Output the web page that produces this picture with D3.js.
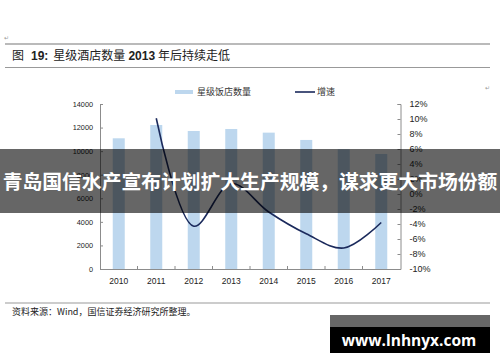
<!DOCTYPE html>
<html lang="zh">
<head>
<meta charset="utf-8">
<style>
  body { margin: 0; background: #fff; }
  svg { display: block; }
  .num { font-family: "Liberation Sans", Arial, sans-serif; fill: #222; }
  .cn { font-family: "Noto Sans CJK SC", sans-serif; }
</style>
</head>
<body>
<script src="https://d3js.org/d3.v7.min.js"></script>
<script>
var width = 500, height = 362;

// data
var years = ["2010", "2011", "2012", "2013", "2014", "2015", "2016", "2017"];
var hotels = [11090, 12220, 11710, 11880, 11570, 10950, 10160, 9760];
var growth = [null, 10.1, -4.3, 1.4, -2.4, -5.3, -7.2, -3.8];
var leftTicks = [0, 2000, 4000, 6000, 8000, 10000, 12000, 14000];
var rightTicks = [-10, -8, -6, -4, -2, 0, 2, 4, 6, 8, 10, 12];

var svg = d3.select("body").append("svg")
  .attr("width", width)
  .attr("height", height);

svg.append("rect").attr("width", width).attr("height", height).attr("fill", "#fff");

// header
svg.append("text").attr("x", 4).attr("y", 40).attr("font-size", 6).attr("fill", "#999").text("↵");
svg.append("line").attr("x1", 5).attr("x2", 490).attr("y1", 44).attr("y2", 44)
  .attr("stroke", "#777").attr("stroke-width", 1.2);
svg.append("line").attr("x1", 5).attr("x2", 490).attr("y1", 67.5).attr("y2", 67.5)
  .attr("stroke", "#999").attr("stroke-width", 1);

var title = svg.append("text").attr("x", 12).attr("y", 59.5).attr("font-size", 12).attr("fill", "#222");
title.append("tspan").attr("class", "cn").text("图");
title.append("tspan").attr("class", "num").attr("dx", 7).attr("font-weight", "bold").text("19:");
title.append("tspan").attr("class", "cn").attr("dx", 5).text("星级酒店数量");
title.append("tspan").attr("class", "num").attr("dx", 3).attr("font-weight", "bold").text("2013");
title.append("tspan").attr("class", "cn").attr("dx", 3).text("年后持续走低");

// scales
var x = d3.scaleBand().domain(years).range([100, 400]).paddingInner(0.68).paddingOuter(0.34);
var yL = d3.scaleLinear().domain([0, 14000]).range([269, 104]);
var yR = d3.scaleLinear().domain([-10, 12]).range([269, 104]);

// bars
svg.selectAll("rect.bar")
  .data(hotels)
  .join("rect")
  .attr("class", "bar")
  .attr("x", function (d, i) { return x(years[i]); })
  .attr("width", x.bandwidth())
  .attr("y", function (d) { return yL(d); })
  .attr("height", function (d) { return yL(0) - yL(d); })
  .attr("fill", "#bdd7ee");

// axes
var axisColor = "#8c8c8c";
var gL = svg.append("g").attr("transform", "translate(100,0)")
  .call(d3.axisRight(yL).tickValues(leftTicks).tickSize(3).tickFormat(d3.format("d")));
gL.selectAll("text").attr("x", -7).attr("text-anchor", "end");

var gR = svg.append("g").attr("transform", "translate(400.5,0)")
  .call(d3.axisLeft(yR).tickValues(rightTicks).tickSize(3).tickFormat(function (d) { return d + "%"; }));
gR.selectAll("text").attr("x", 9).attr("text-anchor", "start");

var gX = svg.append("g").attr("transform", "translate(0,269)")
  .call(d3.axisBottom(x).tickSize(0).tickPadding(9));

[gL, gR, gX].forEach(function (g) {
  g.select(".domain").attr("stroke", axisColor);
  g.selectAll(".tick line").attr("stroke", axisColor);
  g.selectAll("text").attr("class", "num").attr("fill", "#222");
});
gL.selectAll("text").attr("font-size", 7.3);
gR.selectAll("text").attr("font-size", 9);
gX.selectAll("text").attr("font-size", 8.5);

// category boundary ticks on x axis
svg.append("g").selectAll("line")
  .data(years.slice(1))
  .join("line")
  .attr("x1", function (d) { return x(d) - x.step() * x.paddingInner() / 2; })
  .attr("x2", function (d) { return x(d) - x.step() * x.paddingInner() / 2; })
  .attr("y1", 266).attr("y2", 269)
  .attr("stroke", axisColor);

// growth line
var pts = growth.map(function (g, i) { return { year: years[i], v: g }; }).filter(function (d) { return d.v !== null; });
var line = d3.line()
  .x(function (d) { return x(d.year) + x.bandwidth() / 2; })
  .y(function (d) { return yR(d.v); })
  .curve(d3.curveCatmullRom.alpha(0.5));
svg.append("path").datum(pts)
  .attr("d", line)
  .attr("fill", "none")
  .attr("stroke", "#1b2a5c")
  .attr("stroke-width", 1.6);

// legend
svg.append("rect").attr("x", 175).attr("y", 90).attr("width", 18).attr("height", 4).attr("fill", "#bdd7ee");
svg.append("text").attr("class", "cn").attr("x", 197).attr("y", 95).attr("font-size", 9).attr("fill", "#333").text("星级饭店数量");
svg.append("line").attr("x1", 295).attr("x2", 315).attr("y1", 92).attr("y2", 92).attr("stroke", "#1b2a5c").attr("stroke-width", 1.6);
svg.append("text").attr("class", "cn").attr("x", 317).attr("y", 95).attr("font-size", 9).attr("fill", "#333").text("增速");
svg.append("text").attr("x", 485).attr("y", 90).attr("font-size", 6).attr("fill", "#999").text("↵");

// footer
svg.append("line").attr("x1", 5).attr("x2", 490).attr("y1", 303).attr("y2", 303)
  .attr("stroke", "#999").attr("stroke-width", 1.2);
svg.append("text").attr("class", "cn").attr("x", 12).attr("y", 315).attr("font-size", 9).attr("fill", "#222")
  .text("资料来源：Wind，国信证券经济研究所整理。");

// headline banner
svg.append("rect").attr("x", 0).attr("y", 149).attr("width", width).attr("height", 64)
  .attr("fill", "#000").attr("fill-opacity", 0.6);
svg.append("text").attr("class", "cn").attr("x", width / 2).attr("y", 188.5)
  .attr("text-anchor", "middle").attr("font-size", 19.8).attr("font-weight", "bold").attr("fill", "#fff")
  .text("青岛国信水产宣布计划扩大生产规模，谋求更大市场份额");

// watermark box
svg.append("rect").attr("x", 330).attr("y", 315).attr("width", 160).attr("height", 12).attr("fill", "#666");
svg.append("rect").attr("x", 330).attr("y", 327).attr("width", 160).attr("height", 26).attr("fill", "#000");
svg.append("text").attr("x", 409).attr("y", 346).attr("text-anchor", "middle")
  .attr("font-family", "'Open Sans', 'DejaVu Sans', sans-serif").attr("font-weight", "bold")
  .attr("font-size", 15.5).attr("fill", "#fff").text("www.lnhnyx.com");
</script>
</body>
</html>
